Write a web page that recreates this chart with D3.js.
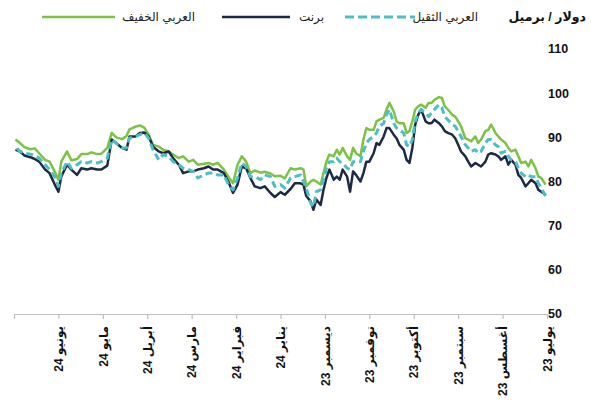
<!DOCTYPE html>
<html>
<head>
<meta charset="utf-8">
<script src="https://cdn.jsdelivr.net/npm/d3@7"></script>
<style>
  body { margin: 0; background: #fff; }
  text { font-family: "Liberation Sans", "DejaVu Sans", sans-serif; }
</style>
</head>
<body>
<script>
// dates (chronological)
let dates = [
  "2023-07-02","2023-07-05","2023-07-07","2023-07-09","2023-07-12","2023-07-14","2023-07-16","2023-07-19","2023-07-21","2023-07-23","2023-07-26","2023-07-28","2023-07-30",
  "2023-08-02","2023-08-04","2023-08-06","2023-08-09","2023-08-11","2023-08-13","2023-08-16","2023-08-18","2023-08-20","2023-08-23","2023-08-25","2023-08-27","2023-08-30",
  "2023-09-01","2023-09-03","2023-09-05","2023-09-08","2023-09-10","2023-09-12","2023-09-14","2023-09-17","2023-09-19","2023-09-21","2023-09-23","2023-09-26","2023-09-28","2023-09-30",
  "2023-10-02","2023-10-04","2023-10-06","2023-10-08","2023-10-11","2023-10-13","2023-10-15","2023-10-18","2023-10-20","2023-10-22","2023-10-25","2023-10-27","2023-10-29",
  "2023-11-01","2023-11-03","2023-11-05","2023-11-07","2023-11-10","2023-11-12","2023-11-14","2023-11-16","2023-11-19","2023-11-21","2023-11-23","2023-11-25","2023-11-28","2023-11-30",
  "2023-12-02","2023-12-04","2023-12-07","2023-12-09","2023-12-11","2023-12-14","2023-12-16","2023-12-18","2023-12-22","2023-12-25","2023-12-29",
  "2024-01-01","2024-01-05","2024-01-08","2024-01-12","2024-01-15","2024-01-19","2024-01-22","2024-01-25","2024-01-28","2024-01-31",
  "2024-02-03","2024-02-06","2024-02-09","2024-02-13","2024-02-16","2024-02-19","2024-02-22","2024-02-26","2024-02-29",
  "2024-03-03","2024-03-07","2024-03-10","2024-03-14","2024-03-17","2024-03-21","2024-03-24","2024-03-28","2024-03-31",
  "2024-04-03","2024-04-06","2024-04-09","2024-04-13","2024-04-15","2024-04-18","2024-04-22","2024-04-25","2024-04-28",
  "2024-05-02","2024-05-05","2024-05-09","2024-05-12","2024-05-16","2024-05-19","2024-05-23","2024-05-26","2024-05-30",
  "2024-06-01","2024-06-03","2024-06-07","2024-06-10","2024-06-14","2024-06-17","2024-06-20","2024-06-24","2024-06-27","2024-06-30"
];

// العربي الخفيف
let arabLight = [
  79.3, 80.8, 81.1, 83.0, 84.9, 83.4, 84.5, 84.2, 85.7, 87.2, 86.8, 87.6, 88.7,
  89.5, 90.2, 91.0, 92.9, 91.7, 91.4, 89.5, 88.7, 90.2, 89.1, 89.5, 89.8, 92.5,
  93.6, 94.7, 95.1, 96.3, 97.0, 98.9, 99.1, 98.5, 97.8, 97.8, 96.7, 97.4, 97.0, 96.3,
  93.6, 91.4, 91.0, 93.2, 93.2, 93.6, 95.9, 97.8, 96.3, 94.4, 94.0, 93.6, 91.7,
  91.7, 92.1, 89.5, 85.7, 86.4, 87.6, 84.9, 85.7, 87.6, 86.1, 87.2, 85.7, 86.1, 84.5,
  81.9, 79.3, 80.0, 80.4, 80.0, 78.9, 82.7, 83.0, 82.7, 83.0, 80.7,
  81.3, 81.2, 81.8, 82.2, 82.0, 82.5, 81.9, 84.5, 85.7, 83.8,
  79.6, 81.1, 82.7, 84.2, 83.8, 84.2, 84.0, 83.8, 84.9,
  84.5, 85.7, 85.3, 86.1, 86.8, 87.2, 87.9, 88.3, 90.6,
  92.2, 92.7, 92.4, 91.8, 90.3, 89.6, 90.0, 91.0, 87.6,
  86.3, 86.2, 86.6, 86.2, 86.2, 85.1, 84.8, 86.8, 84.5,
  80.4, 81.9, 84.5, 84.9, 86.4, 87.5, 87.3, 87.8, 88.7, 89.5
];

// برنت
let brent = [
  77.0, 77.7, 78.1, 79.6, 80.4, 79.6, 78.9, 80.8, 81.5, 83.8, 84.9, 83.8, 85.7,
  84.9, 85.7, 86.1, 86.4, 86.1, 84.5, 83.4, 83.8, 84.2, 83.4, 84.5, 85.7, 86.8,
  88.3, 89.8, 90.6, 91.0, 91.4, 92.5, 93.2, 94.0, 93.2, 93.2, 93.6, 96.3, 95.1, 92.9,
  87.6, 84.2, 84.9, 87.2, 88.3, 89.8, 90.6, 92.1, 92.1, 90.2, 88.3, 88.7, 86.4,
  84.5, 84.5, 81.9, 80.0, 81.5, 82.3, 77.7, 81.1, 82.7, 80.4, 81.1, 80.4, 82.7, 80.8,
  78.1, 74.7, 75.9, 73.6, 75.5, 76.7, 79.3, 79.6, 79.6, 78.3, 77.0,
  77.6, 76.5, 77.4, 78.9, 78.5, 78.9, 80.8, 83.0, 83.4, 79.3,
  77.4, 80.0, 81.9, 82.7, 82.7, 83.4, 83.0, 82.7, 82.3,
  82.3, 81.9, 83.8, 85.3, 86.8, 86.4, 86.8, 87.9, 90.2,
  91.1, 91.0, 90.2, 90.2, 87.2, 87.6, 88.7, 89.5, 83.6,
  82.7, 82.7, 83.0, 82.7, 83.0, 81.5, 82.7, 83.8, 81.1,
  77.7, 79.0, 81.9, 82.7, 84.5, 85.1, 85.5, 85.9, 86.8, 87.2
];

// العربي الثقيل
let arabHeavy = [
  76.7, 78.5, 79.6, 81.1, 81.1, 81.5, 81.1, 81.9, 83.0, 84.5, 84.9, 85.7, 86.8,
  86.4, 87.9, 88.3, 89.5, 89.5, 88.7, 86.8, 86.4, 87.2, 86.8, 87.6, 88.3, 90.2,
  91.4, 92.5, 92.9, 94.0, 94.7, 96.7, 97.4, 96.3, 95.5, 94.7, 95.5, 96.3, 95.5, 93.6,
  89.5, 87.9, 88.3, 91.0, 91.7, 92.1, 93.2, 96.3, 95.1, 93.2, 92.5, 91.0, 90.2,
  89.5, 88.7, 86.8, 84.5, 84.5, 84.5, 82.7, 83.0, 84.2, 84.5, 85.3, 84.5, 84.5, 83.0,
  80.4, 78.1, 77.7, 74.3, 75.1, 78.5, 80.0, 81.5, 81.1, 80.8, 78.5,
  79.3, 78.9, 81.1, 81.5, 80.4, 81.1, 81.1, 83.4, 84.2, 80.8,
  78.1, 79.3, 81.5, 81.5, 81.9, 81.9, 81.5, 80.8, 82.3,
  82.7, 83.0, 83.8, 84.5, 85.7, 86.1, 84.9, 87.2, 89.8,
  91.0, 90.6, 90.2, 89.8, 87.6, 87.6, 88.7, 89.5, 85.3,
  84.5, 84.2, 84.5, 84.2, 84.5, 83.8, 83.0, 84.5, 81.9,
  78.9, 80.8, 82.7, 83.8, 85.3, 85.9, 86.2, 86.4, 86.8, 87.9
];

let monthStarts = ["2023-07-01","2023-08-01","2023-09-01","2023-10-01","2023-11-01","2023-12-01",
  "2024-01-01","2024-02-01","2024-03-01","2024-04-01","2024-05-01","2024-06-01","2024-07-01"];
let monthLabels = ["يوليو 23","أغسطس 23","سبتمبر 23","أكتوبر 23","نوفمبر 23","ديسمبر 23",
  "يناير 24","فبراير 24","مارس 24","أبريل 24","مايو 24","يونيو 24",""];
let yTicks = [50, 60, 70, 80, 90, 100, 110];

let seriesNames = ["العربي الخفيف", "برنت", "العربي الثقيل"];
let colors = ["#7DC242", "#1E2A45", "#4BBFC3"];

let width = 591;
let height = 400;
let plotLeft = 14, plotRight = 547, plotTop = 49, plotBottom = 314;

let svg = d3.select("body").append("svg")
    .attr("width", width)
    .attr("height", height);

let parse = d3.timeParse("%Y-%m-%d");
let monthDates = monthStarts.map(parse);

// months are evenly spaced, time runs right to left
let x = d3.scaleTime()
    .domain(monthDates)
    .range(monthDates.map((d, i) => plotRight - (plotRight - plotLeft) * i / (monthDates.length - 1)));

let y = d3.scaleLinear()
    .domain([50, 110])
    .range([plotBottom, plotTop]);

// y labels on the right, no axis line
svg.selectAll(".ylabel")
    .data(yTicks)
    .join("text")
    .attr("class", "ylabel")
    .attr("x", 548)
    .attr("y", d => y(d))
    .attr("dy", "0.35em")
    .attr("font-size", 12.5)
    .attr("font-weight", "bold")
    .attr("fill", "#111")
    .text(d => d);

// x axis
let xAxis = svg.append("g")
    .attr("transform", `translate(0,${plotBottom})`)
    .call(d3.axisBottom(x)
        .tickValues(monthDates)
        .tickSize(5)
        .tickSizeOuter(0)
        .tickFormat((d, i) => monthLabels[i]));

xAxis.select(".domain").attr("stroke", "#BFBFBF").attr("stroke-width", 1.2);
xAxis.selectAll(".tick line").attr("stroke", "#BFBFBF").attr("stroke-width", 1.2);
xAxis.selectAll(".tick text")
    .attr("font-size", 12)
    .attr("font-weight", "bold")
    .attr("fill", "#111")
    .attr("font-family", "\"Liberation Sans\", \"DejaVu Sans\", sans-serif")
    .attr("text-anchor", "end")
    .attr("transform", "translate(0,12) rotate(-90)")
    .attr("x", 0)
    .attr("y", 0)
    .attr("dy", "0.35em");

let line = d3.line()
    .x(d => x(d.date))
    .y(d => y(d.value));

let allSeries = [arabLight, brent, arabHeavy].map(vals =>
    vals.map((v, i) => ({ date: parse(dates[i]), value: v })));

svg.selectAll(".series")
    .data(allSeries)
    .join("path")
    .attr("class", "series")
    .attr("d", line)
    .attr("fill", "none")
    .attr("stroke", (d, i) => colors[i])
    .attr("stroke-width", (d, i) => i == 2 ? 3 : 2.5)
    .attr("stroke-dasharray", (d, i) => i == 2 ? "7,4" : null)
    .attr("stroke-linejoin", "round");

// legend
svg.append("text")
    .attr("x", 586)
    .attr("y", 17)
    .attr("dy", "0.35em")
    .attr("text-anchor", "end")
    .attr("font-size", 12.5)
    .attr("font-weight", "bold")
    .attr("fill", "#111")
    .text("دولار / برميل");

let legendItems = [
    { name: seriesNames[2], color: colors[2], dash: "9,4", textX: 478, x1: 345, x2: 415, w: 3 },
    { name: seriesNames[1], color: colors[1], dash: null, textX: 324, x1: 222, x2: 290, w: 2.5 },
    { name: seriesNames[0], color: colors[0], dash: null, textX: 195, x1: 42, x2: 115, w: 2.5 }
];

let legend = svg.append("g").attr("class", "legend");

legend.selectAll("line")
    .data(legendItems)
    .join("line")
    .attr("x1", d => d.x1)
    .attr("x2", d => d.x2)
    .attr("y1", 17)
    .attr("y2", 17)
    .attr("stroke", d => d.color)
    .attr("stroke-width", d => d.w)
    .attr("stroke-dasharray", d => d.dash);

legend.selectAll("text")
    .data(legendItems)
    .join("text")
    .attr("x", d => d.textX)
    .attr("y", 17)
    .attr("dy", "0.35em")
    .attr("text-anchor", "end")
    .attr("font-size", 12)
    .attr("fill", "#222")
    .text(d => d.name);
</script>
</body>
</html>
